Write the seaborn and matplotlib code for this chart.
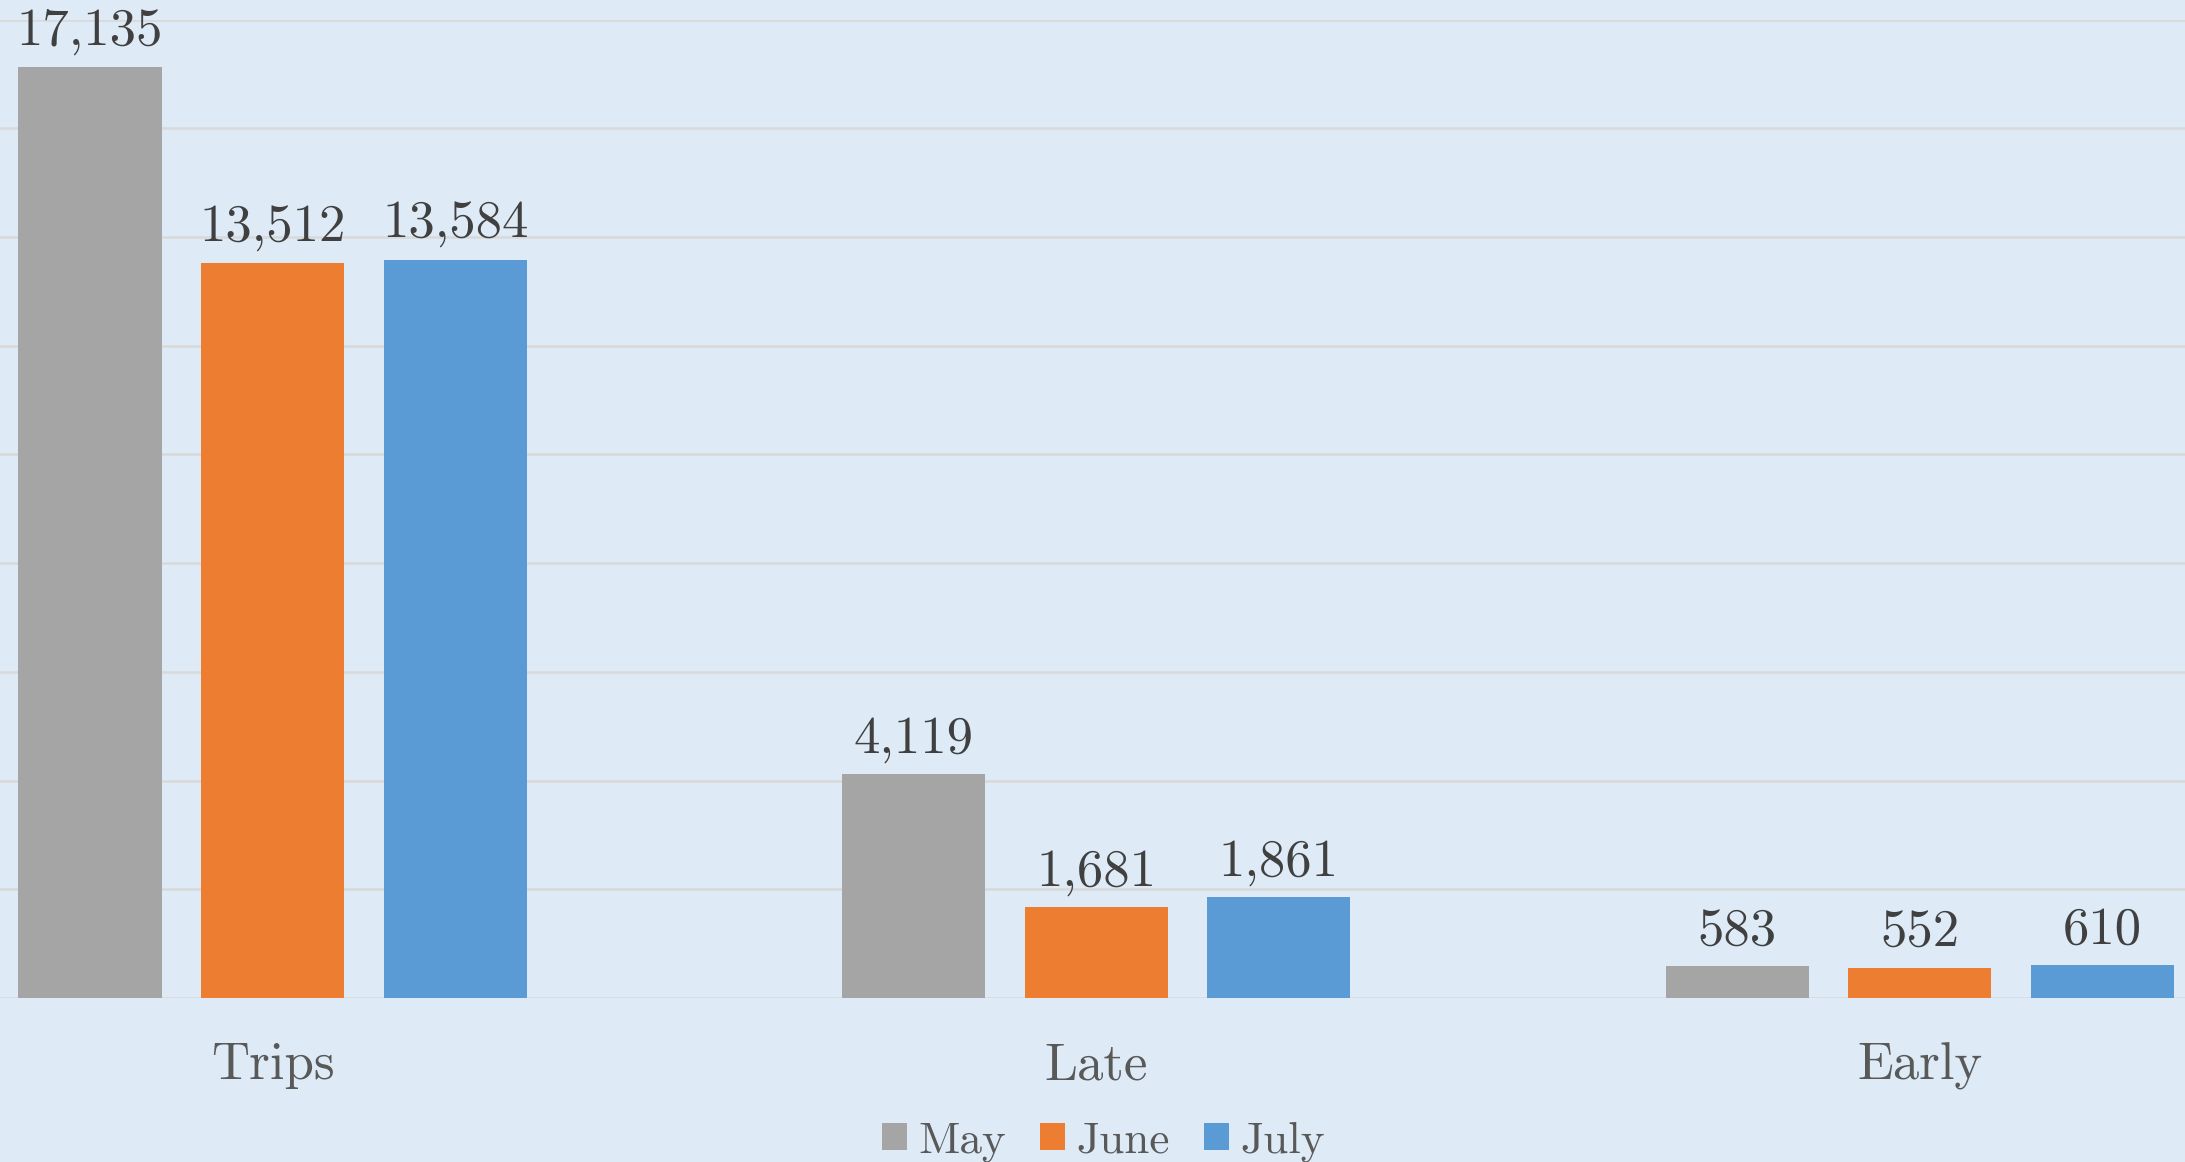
import matplotlib
matplotlib.use("Agg")
import matplotlib.pyplot as plt
import seaborn as sns
import pandas as pd

categories = ["Trips", "Late", "Early"]
months = ["May", "June", "July"]
may_values = [17135, 4119, 583]
june_values = [13512, 1681, 552]
july_values = [13584, 1861, 610]
colors = ["#A5A5A5", "#ED7D31", "#5B9BD5"]

rows = []
for m, vals in zip(months, [may_values, june_values, july_values]):
    for c, v in zip(categories, vals):
        rows.append({"category": c, "month": m, "value": v})
df = pd.DataFrame(rows)

sns.set_theme(style="white")
plt.rcParams["font.family"] = ["cmr10", "DejaVu Serif"]
plt.rcParams["axes.formatter.use_mathtext"] = True

bg = "#DEEBF7"
fig = plt.figure(figsize=(21.85, 11.62), dpi=100, facecolor=bg)
ax = fig.add_axes([0.0, 0.1411, 1.0, 0.8421])
ax.set_facecolor(bg)

sns.barplot(data=df, x="category", y="value", hue="month", order=categories,
            hue_order=months, palette=colors, width=0.665, gap=0.215,
            linewidth=0, saturation=1, ax=ax, legend=True)

ax.set_ylim(0, 18000)
ax.set_xlim(-0.331, 2.322)
ax.set_yticks(range(0, 18001, 2000))
ax.yaxis.grid(True, color="#D9D9D9", linewidth=1.8)
ax.set_axisbelow(True)
ax.tick_params(axis="y", left=False, labelleft=False)
ax.tick_params(axis="x", length=0, pad=32, labelsize=38, labelcolor="#595959")
ax.set_xlabel("")
ax.set_ylabel("")
for s in ax.spines.values():
    s.set_visible(False)

for cont in ax.containers:
    ax.bar_label(cont, labels=[f"{int(v):,}" for v in cont.datavalues],
                 padding=8, fontsize=38, color="#404040", clip_on=False)

handles, labels = ax.get_legend_handles_labels()
ax.get_legend().remove()
fig.legend(handles, labels, loc="center", bbox_to_anchor=(0.505, 0.0175), ncol=3,
           frameon=False, fontsize=32.5, labelcolor="#595959",
           handlelength=0.56, handleheight=0.56, handletextpad=0.26,
           columnspacing=0.74, borderaxespad=0, borderpad=0)

fig.savefig("out.png", dpi=100, facecolor=bg)
